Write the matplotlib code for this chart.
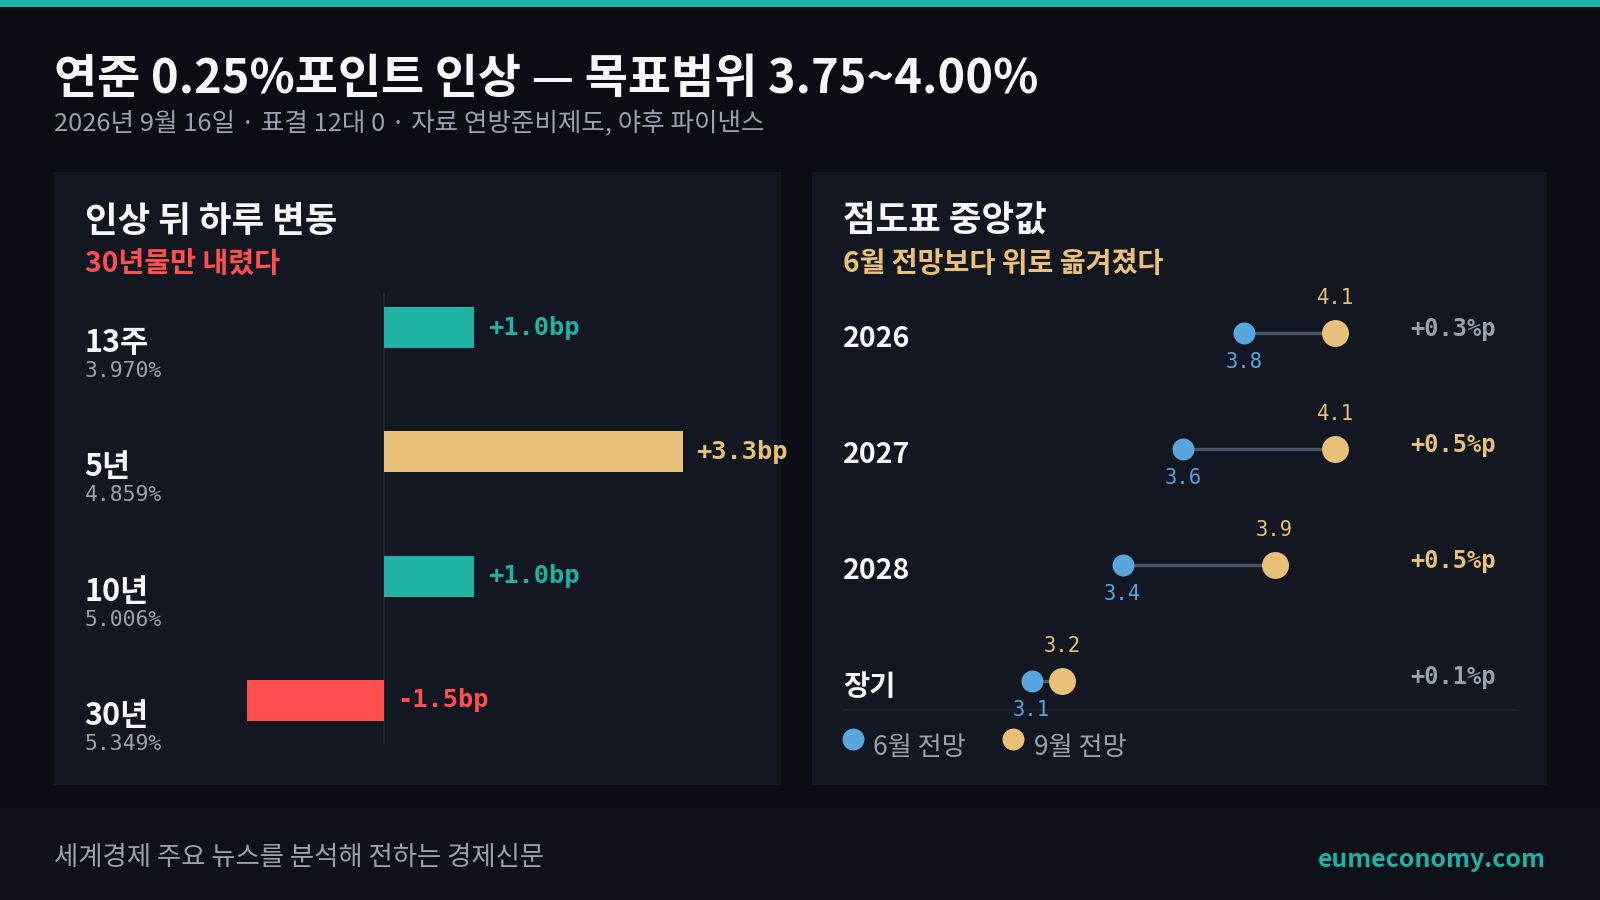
import matplotlib
matplotlib.use('Agg')
import matplotlib.pyplot as plt
from matplotlib.patches import Rectangle
from matplotlib.transforms import blended_transform_factory

# layout grid in px, the figure itself is 1600x900
W, H = 1568, 882

KR = ['Noto Sans CJK KR', 'DejaVu Sans']
MONO = ['DejaVu Sans Mono']

BG = '#0a0d13'
PANEL = '#131721'
FOOT = '#0e111a'
TEAL = '#1fb3a5'
GOLD = '#e8c07a'
RED = '#ff4f4f'
BLUE = '#5ba5de'
GRAY = '#98a1ac'
WHITE = '#f5f7fa'
GRID = '#1f2531'

# left panel: one-day move after the hike
tenors = ['13주', '5년', '10년', '30년']
yields = ['3.970%', '4.859%', '5.006%', '5.349%']
change_bp = [1.0, 3.3, 1.0, -1.5]

# right panel: dot plot medians
years = ['2026', '2027', '2028', '장기']
june = [3.8, 3.6, 3.4, 3.1]
sept = [4.1, 4.1, 3.9, 3.2]


def frac(x0, y0, x1, y1):
    return [x0 / W, 1 - y1 / H, (x1 - x0) / W, (y1 - y0) / H]


fig = plt.figure(figsize=(16, 9), dpi=100, facecolor=BG)
ov = fig.add_axes([0, 0, 1, 1], zorder=0)
ov.set_xlim(0, W)
ov.set_ylim(H, 0)
ov.axis('off')

# frame
ov.add_patch(Rectangle((0, 0), W, 7, color=TEAL, lw=0))
ov.add_patch(Rectangle((0, 792), W, H - 792, color=FOOT, lw=0))
ov.add_patch(Rectangle((53, 169), 712, 600, color=PANEL, lw=0))
ov.add_patch(Rectangle((796, 169), 720, 600, color=PANEL, lw=0))

ov.text(53, 77, '연준 0.25%포인트 인상 — 목표범위 3.75~4.00%', fontsize=33.8,
        fontweight='bold', color=WHITE, family=KR, va='center')
ov.text(53, 122, '2026년 9월 16일 · 표결 12대 0 · 자료 연방준비제도, 야후 파이낸스',
        fontsize=18.4, color=GRAY, family=KR, va='center')

ov.text(83, 217, '인상 뒤 하루 변동', fontsize=25.5, fontweight='bold', color=WHITE,
        family=KR, va='center')
ov.text(83, 259, '30년물만 내렸다', fontsize=20.3, fontweight='bold', color=RED,
        family=KR, va='center')
ov.text(826, 217, '점도표 중앙값', fontsize=25.5, fontweight='bold', color=WHITE,
        family=KR, va='center')
ov.text(826, 259, '6월 전망보다 위로 옮겨졌다', fontsize=20.3, fontweight='bold',
        color=GOLD, family=KR, va='center')

ov.text(53, 840, '세계경제 주요 뉴스를 분석해 전하는 경제신문', fontsize=19,
        color=GRAY, family=KR, va='center')
ov.text(1515, 843, 'eumeconomy.com', fontsize=17.9, fontweight='bold',
        color=TEAL, family=KR, va='center', ha='right')

# ---- bars
ax = fig.add_axes(frac(198, 287, 732, 729), zorder=1)
ax.set_facecolor('none')
ax.set_xlim(-2, 4)
ax.set_ylim(3.35, -0.28)
ax.axis('off')
ax.axvline(0, color=GRID, lw=1.5, zorder=0)

top = max(change_bp)
for i, v in enumerate(change_bp):
    if v < 0:
        c = RED
    elif v == top:
        c = GOLD
    else:
        c = TEAL
    ax.barh(i, v, height=0.33, color=c, lw=0, zorder=2)
    ax.annotate(f'{v:+.1f}bp', xy=(max(v, 0), i), xytext=(9.5, 0),
                textcoords='offset points', fontsize=18.3, fontweight='bold',
                color=c, family=MONO, va='center', ha='left')

lab = blended_transform_factory(ov.transData, ax.transData)
for i, (t, y) in enumerate(zip(tenors, yields)):
    ax.text(83, i + 0.125, t, transform=lab, fontsize=22, fontweight='bold',
            color=WHITE, family=KR, va='center')
    ax.text(83, i + 0.35, y, transform=lab, fontsize=15.4, color=GRAY,
            family=MONO, va='center')

# ---- dumbbells
ax2 = fig.add_axes(frac(826, 287, 1487, 696), zorder=1)
ax2.set_facecolor('none')
ax2.set_xlim(2.478, 4.70)
ax2.set_ylim(3.255, -0.343)
for s in ['top', 'left', 'right']:
    ax2.spines[s].set_visible(False)
ax2.spines['bottom'].set_color(GRID)
ax2.spines['bottom'].set_linewidth(1.2)
ax2.set_xticks([])
ax2.set_yticks([])

lab2 = blended_transform_factory(ov.transData, ax2.transData)
for i, (yr, a, b) in enumerate(zip(years, june, sept)):
    ax2.plot([a, b], [i, i], color='#4a5466', lw=2.4, zorder=1)
    ax2.plot(a, i, 'o', ms=15.8, mew=0, color=BLUE, zorder=2)
    ax2.plot(b, i, 'o', ms=19.4, mew=0, color=GOLD, zorder=3)
    ax2.annotate(f'{b:.1f}', xy=(b, i), xytext=(0, 25), textcoords='offset points',
                 fontsize=14.8, color=GOLD, family=MONO, ha='center', va='center')
    ax2.annotate(f'{a:.1f}', xy=(a, i), xytext=(0, -21), textcoords='offset points',
                 fontsize=14.8, color=BLUE, family=MONO, ha='center', va='center')
    d = round(b - a, 1)
    ax2.text(826, i + 0.055, yr, transform=lab2, fontsize=20.5, fontweight='bold',
             color=WHITE, family=KR, va='center')
    ax2.text(1466, i - 0.035, f'{d:+.1f}%p', transform=lab2, fontsize=17,
             fontweight='bold', color=GOLD if d >= 0.5 else GRAY, family=MONO,
             va='center', ha='right')

# legend
ov.plot(836, 724, 'o', ms=15.8, mew=0, color=BLUE)
ov.text(856, 733, '6월 전망', fontsize=18.9, color=GRAY, family=KR, va='center')
ov.plot(993, 724, 'o', ms=15.8, mew=0, color=GOLD)
ov.text(1013, 733, '9월 전망', fontsize=18.9, color=GRAY, family=KR, va='center')

fig.savefig('out.png', dpi=100, facecolor=BG)
